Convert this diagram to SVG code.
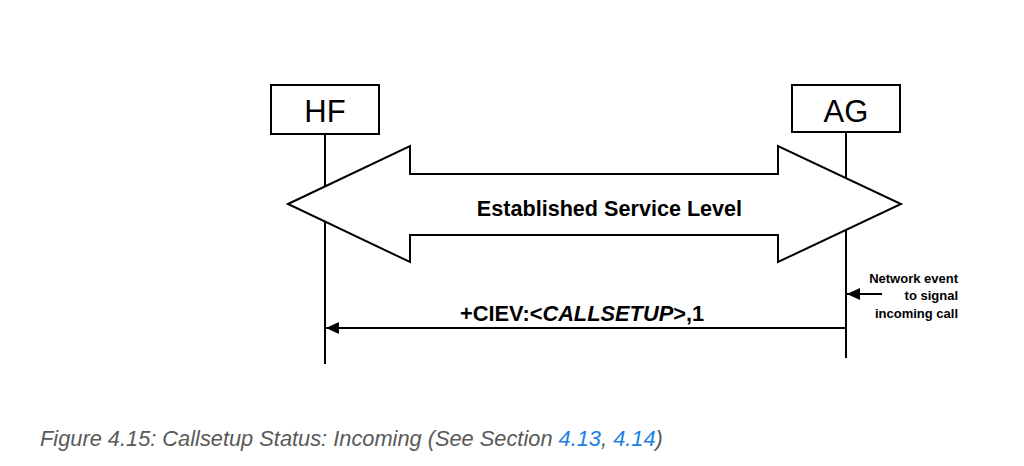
<svg xmlns="http://www.w3.org/2000/svg" width="1024" height="466" viewBox="0 0 1024 466">
<style>
.box{fill:#fff;stroke:#000;stroke-width:2}
.life{stroke:#000;stroke-width:2;fill:none}
.lbl{font-family:"Liberation Sans",Arial,sans-serif;fill:#000}
.msg{stroke:#000;stroke-width:2;fill:none}
.cap{font-family:"Liberation Sans",Arial,sans-serif;font-size:21.8px;font-style:italic;fill:#595959}
.ref{fill:#1a7fe6}
</style>
<defs>
<marker id="ah" markerWidth="14" markerHeight="12" refX="13" refY="6" orient="auto" markerUnits="userSpaceOnUse">
<path d="M0,0 L13,6 L0,12 Z" fill="#000"/>
</marker>
</defs>
<rect width="1024" height="466" fill="#fff"/>
<g id="connectors">
<line class="life" x1="325" y1="134" x2="325" y2="364"/>
<line class="life" x1="846" y1="132" x2="846" y2="358"/>
<line class="msg" x1="846" y1="328" x2="326" y2="328" marker-end="url(#ah)"/>
<line class="msg" x1="882" y1="294" x2="847" y2="294" marker-end="url(#ah)"/>
</g>
<g id="sl">
<path d="M288,204 L410,146 L410,174 L778,174 L778,146 L901,204 L778,262 L778,235 L410,235 L410,262 Z" fill="#fff" stroke="#000" stroke-width="2"/>
<text class="lbl" x="609.5" y="216" font-size="21.6" font-weight="bold" text-anchor="middle">Established Service Level</text>
</g>
<g id="hf">
<rect class="box" x="271" y="85" width="108" height="49"/>
<text class="lbl" x="325" y="122" font-size="31" text-anchor="middle">HF</text>
</g>
<g id="ag">
<rect class="box" x="792" y="85" width="108" height="47"/>
<text class="lbl" x="846" y="122" font-size="31" text-anchor="middle">AG</text>
</g>
<g id="msg-label">
<text class="lbl" x="460" y="321" font-size="21.8" font-weight="bold">+CIEV:&lt;<tspan font-style="italic">CALLSETUP</tspan>&gt;,1</text>
</g>
<g id="note">
<text class="lbl" font-size="13" font-weight="bold" text-anchor="end"><tspan x="958" y="283">Network event</tspan><tspan x="958" y="300">to signal</tspan><tspan x="958" y="318">incoming call</tspan></text>
</g>
<text class="cap" x="40" y="446">Figure 4.15: Callsetup Status: Incoming (See Section <tspan class="ref">4.13</tspan>, <tspan class="ref">4.14</tspan>)</text>
</svg>
